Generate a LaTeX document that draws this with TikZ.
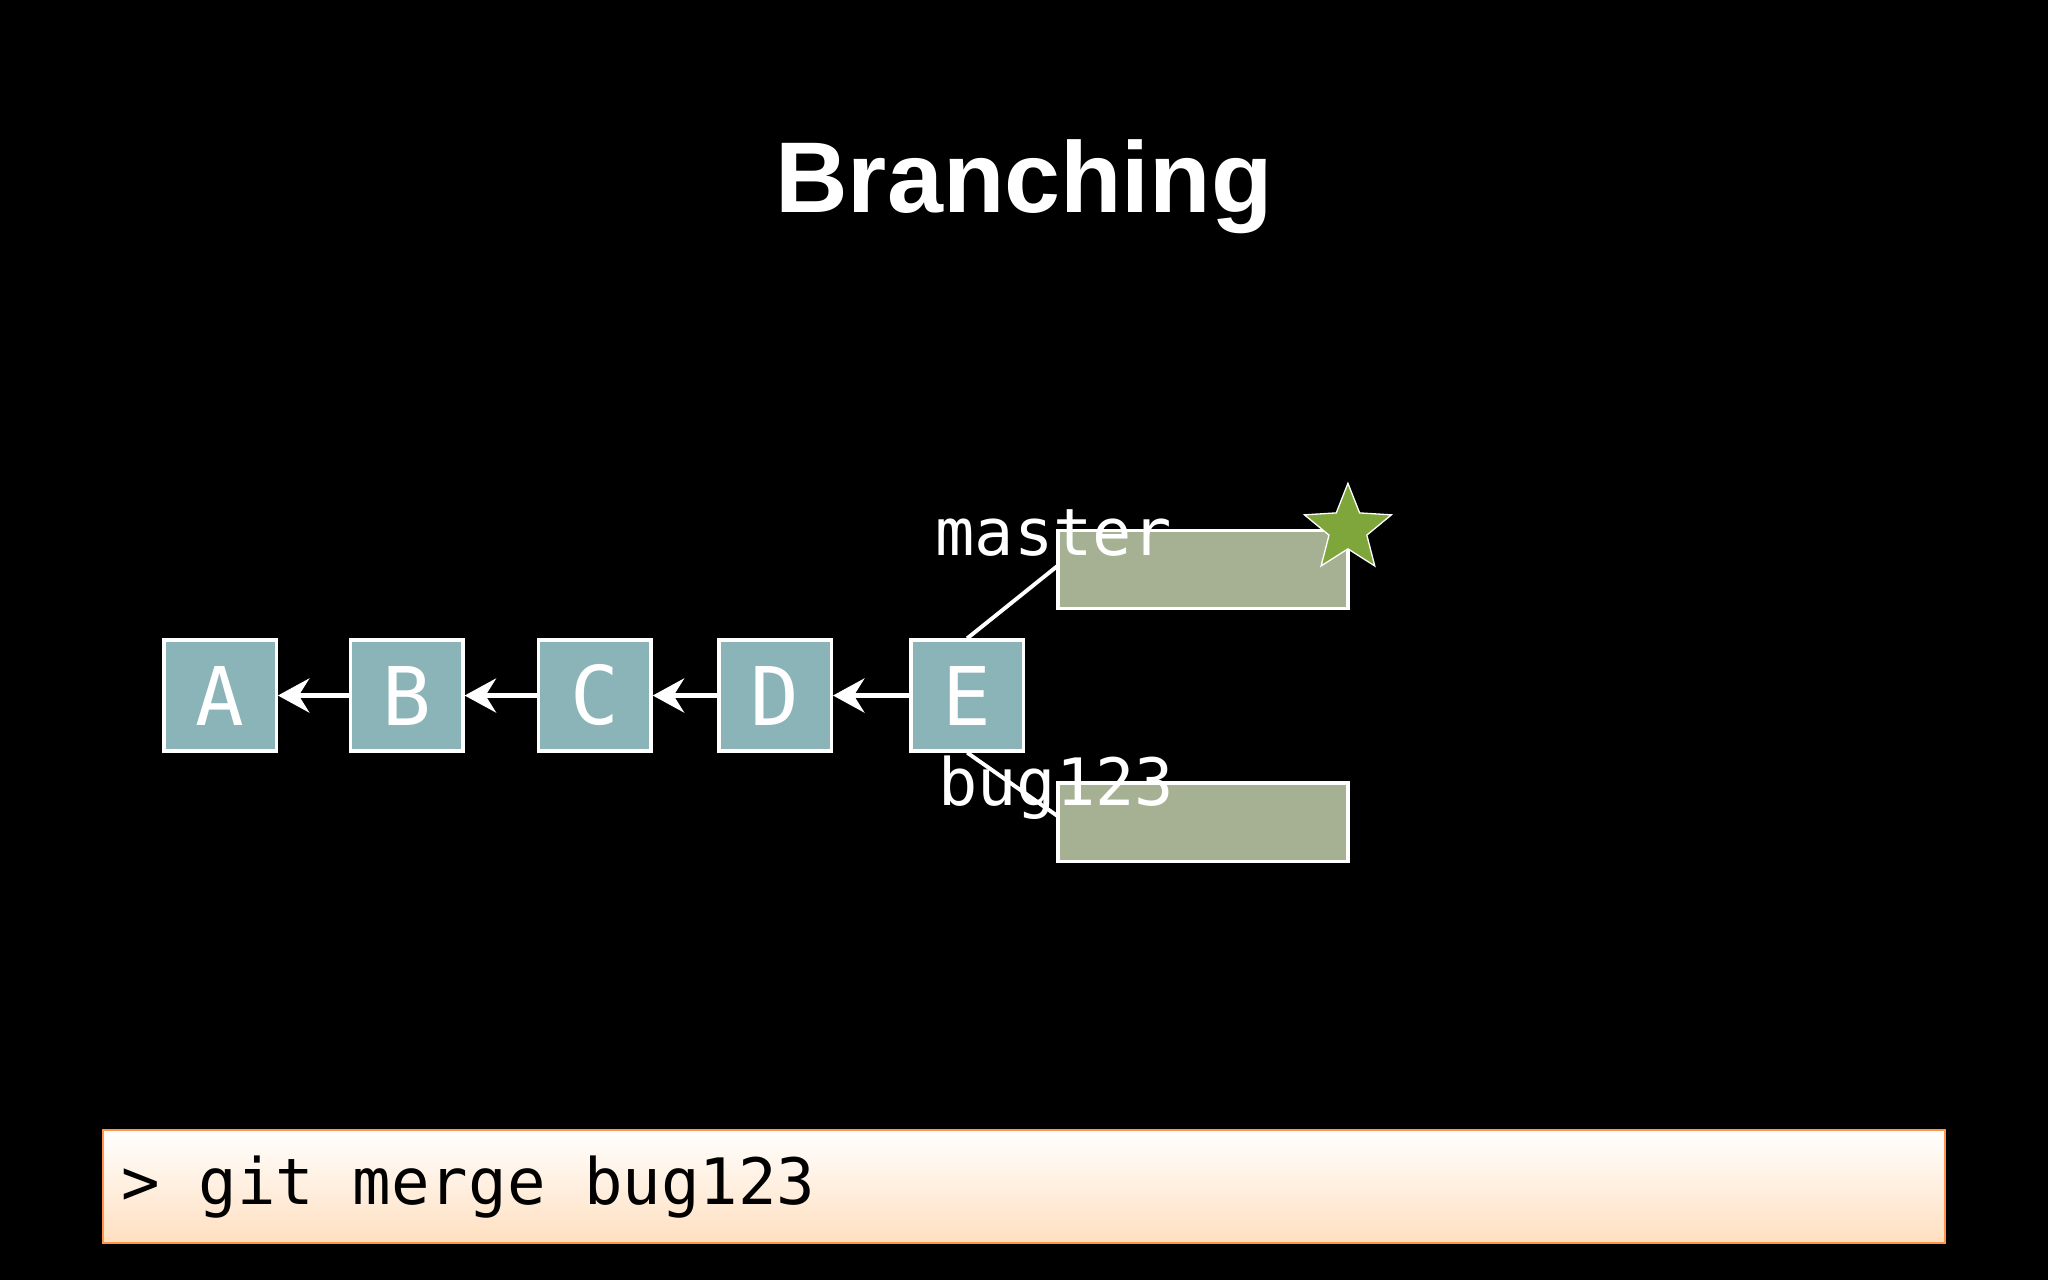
\documentclass[tikz,border=0pt]{standalone}
\usepackage{fontspec}
\setmainfont{Liberation Sans}
\newfontfamily\mono{DejaVu Sans Mono}
\usetikzlibrary{shapes.geometric,arrows.meta}
\definecolor{commit}{HTML}{8AB4B8}
\definecolor{branch}{HTML}{A5B192}
\definecolor{starg}{HTML}{7FA63A}
\begin{document}
\begin{tikzpicture}[x=1pt,y=-1pt,
  commit/.style={draw=white,line width=2.5pt,fill=commit,minimum width=86pt,minimum height=85pt,inner sep=0pt,text=white,font=\mono\fontsize{62}{62}\selectfont},
  br/.style={draw=white,line width=2.5pt,fill=branch,minimum width=222pt,minimum height=60pt,inner sep=0pt},
  lbl/.style={text=white,font=\mono\fontsize{50}{50}\selectfont,inner sep=0pt,anchor=base west},
  link/.style={draw=white,line width=3pt},
  parent/.style={draw=white,line width=4pt,-{Stealth[length=24pt,width=26pt,inset=8pt]}}]
\fill[black] (0,0) rectangle (1568,980);
\useasboundingbox (0,0) rectangle (1568,980);
\node[font=\bfseries\fontsize{77}{77}\selectfont,text=white] (title) at (784,143) {Branching};
\node[commit] (A) at (168.5,532.5) {A};
\node[commit] (B) at (311.5,532.5) {B};
\node[commit] (C) at (455.5,532.5) {C};
\node[commit] (D) at (593.5,532.5) {D};
\node[commit] (E) at (740.5,532.5) {E};
\draw[parent] (B) -- (A);
\draw[parent] (C) -- (B);
\draw[parent] (D) -- (C);
\draw[parent] (E) -- (D);
\node[br] (master) at (921,436) {};
\node[br] (bug) at (921,629.5) {};
\coordinate (m1) at (810,433);
\coordinate (b1) at (810,625);
\draw[link] (E.north) -- (m1);
\draw[link] (E.south) -- (b1);
\node[lbl] (ml) at (716,425) {master};
\node[lbl] (bl) at (718,617) {bug123};
\node[star,star points=5,star point ratio=2.3,minimum size=70pt,fill=starg,draw=white,line width=1pt,inner sep=0pt] (star) at (1032,405) {};
\shade[top color=white,bottom color=orange!25,draw=orange!80!red!70,line width=1.5pt] (79,865) rectangle (1489,952);
\node[anchor=base west,inner sep=0pt,text=black,font=\mono\fontsize{49}{49}\selectfont] (cmd) at (93,922) {> git merge bug123};
\end{tikzpicture}
\end{document}
